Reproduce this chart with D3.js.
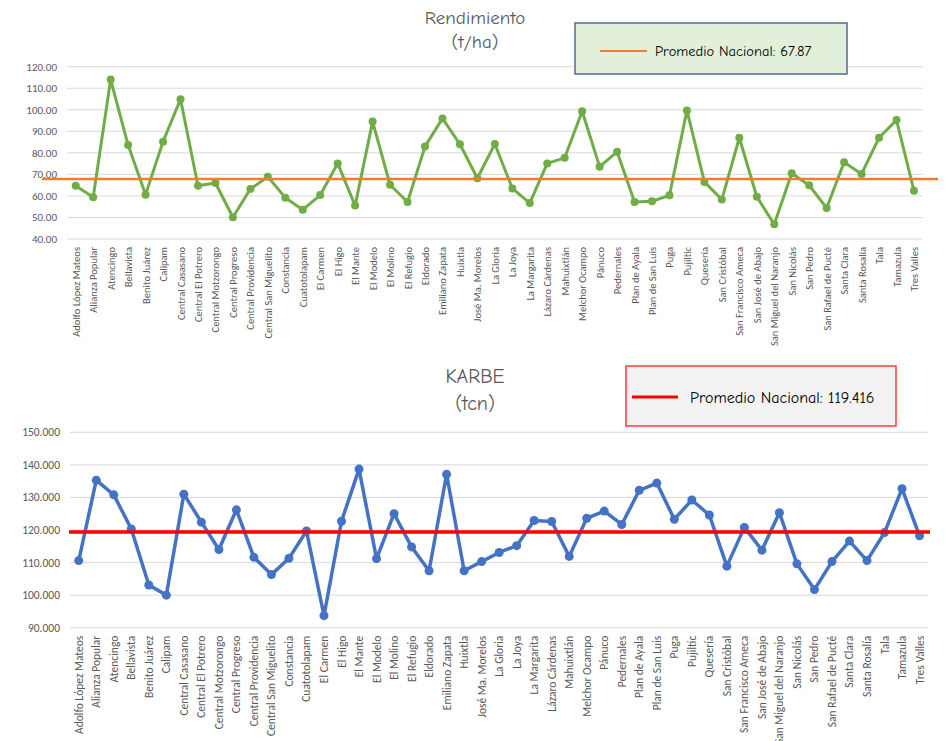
<!DOCTYPE html>
<html>
<head>
<meta charset="utf-8">
<script src="https://cdn.jsdelivr.net/npm/d3@7"></script>
<style>
  body { margin: 0; background: #fff; }
  svg { display: block; }
</style>
</head>
<body>
<svg id="chart" width="947" height="741"></svg>
<script>
// Ingenios (same order in both charts)
const ingenios = [
  "Adolfo López Mateos", "Alianza Popular", "Atencingo", "Bellavista", "Benito Juárez", "Calipam",
  "Central Casasano", "Central El Potrero", "Central Motzorongo", "Central Progreso", "Central Providencia",
  "Central San Miguelito", "Constancia", "Cuatotolapam", "El Carmen", "El Higo", "El Mante", "El Modelo",
  "El Molino", "El Refugio", "Eldorado", "Emiliano Zapata", "Huixtla", "José Ma. Morelos", "La Gloria",
  "La Joya", "La Margarita", "Lázaro Cárdenas", "Mahuixtlán", "Melchor Ocampo", "Pánuco", "Pedernales",
  "Plan de Ayala", "Plan de San Luis", "Puga", "Pujiltic", "Quesería", "San Cristóbal", "San Francisco Ameca",
  "San José de Abajo", "San Miguel del Naranjo", "San Nicolás", "San Pedro", "San Rafael de Pucté",
  "Santa Clara", "Santa Rosalía", "Tala", "Tamazula", "Tres Valles"
];

// Rendimiento (t/ha)
const rendimiento = [
  64.7, 59.4, 114.0, 83.6, 60.6, 85.2, 104.9, 64.7, 66.0, 50.1, 63.2, 68.9, 59.2, 53.6, 60.4, 75.1, 55.5,
  94.5, 65.2, 57.2, 82.9, 96.0, 84.0, 68.2, 84.1, 63.5, 56.7, 75.1, 77.7, 99.3, 73.6, 80.5, 57.2, 57.5,
  60.3, 99.7, 66.5, 58.3, 87.0, 59.6, 46.8, 70.5, 64.9, 54.4, 75.6, 70.2, 87.0, 95.2, 62.4
];
const promedioRendimiento = 67.87;
const ticksRendimiento = [40, 50, 60, 70, 80, 90, 100, 110, 120];

// KARBE (tcn)
const karbe = [
  110.6, 135.3, 130.8, 120.3, 103.1, 100.0, 131.0, 122.4, 114.0, 126.2, 111.6, 106.3, 111.3, 119.7, 93.7,
  122.7, 138.7, 111.2, 125.0, 114.8, 107.5, 137.1, 107.5, 110.3, 113.1, 115.2, 122.9, 122.6, 111.9, 123.6,
  125.8, 121.7, 132.2, 134.4, 123.3, 129.2, 124.6, 108.9, 120.8, 113.8, 125.3, 109.6, 101.7, 110.3, 116.6,
  110.6, 119.2, 132.7, 118.2
];
const promedioKarbe = 119.416;
const ticksKarbe = [90, 100, 110, 120, 130, 140, 150];

const svg = d3.select("#chart");
const titleFont = "'Comic Sans MS', 'Comic Neue', 'DejaVu Sans', sans-serif";
const axisFont = "Calibri, Carlito, 'Open Sans', sans-serif";

function drawChart(o) {
  const g = svg.append("g");

  const x = d3.scalePoint().domain(ingenios).range([o.left, o.right]).padding(0.5);
  const y = d3.scaleLinear().domain(o.domain).range([o.bottom, o.top]);

  // gridlines
  g.selectAll("line.grid")
    .data(o.ticks)
    .join("line")
      .attr("x1", o.left).attr("x2", o.right)
      .attr("y1", d => y(d)).attr("y2", d => y(d))
      .attr("stroke", "#d9d9d9").attr("stroke-width", 1);

  // y tick labels
  g.selectAll("text.ytick")
    .data(o.ticks)
    .join("text")
      .attr("x", o.left - 10)
      .attr("y", d => y(d))
      .attr("dy", "0.35em")
      .attr("text-anchor", "end")
      .style("font-family", axisFont)
      .style("font-size", o.tickSize + "px")
      .style("fill", "#595959")
      .text(d => d3.format(o.fmt)(d));

  // category labels, rotated
  g.selectAll("text.xlab")
    .data(ingenios)
    .join("text")
      .attr("transform", d => `translate(${x(d) + 4},${o.bottom + o.labelGap}) rotate(-90)`)
      .attr("text-anchor", "end")
      .style("font-family", axisFont)
      .style("font-size", o.labelSize + "px")
      .style("fill", "#595959")
      .text(d => d);

  // series line + markers
  const line = d3.line().x((d, i) => x(ingenios[i])).y(d => y(d));
  g.append("path")
    .datum(o.values)
    .attr("d", line)
    .attr("fill", "none")
    .attr("stroke", o.color)
    .attr("stroke-width", o.lineWidth)
    .attr("stroke-linejoin", "round");
  g.selectAll("circle")
    .data(o.values)
    .join("circle")
      .attr("cx", (d, i) => x(ingenios[i]))
      .attr("cy", d => y(d))
      .attr("r", o.markerR)
      .attr("fill", o.color);

  // national average line
  g.append("line")
    .attr("x1", o.avgX1).attr("x2", o.avgX2)
    .attr("y1", y(o.avg)).attr("y2", y(o.avg))
    .attr("stroke", o.avgColor)
    .attr("stroke-width", o.avgWidth);

  // title
  const t = g.append("text")
    .attr("text-anchor", "middle")
    .style("font-family", titleFont)
    .style("font-size", o.titleSize + "px")
    .style("fill", "#595959");
  o.title.forEach((s, i) => {
    t.append("tspan").attr("x", 475).attr("y", o.titleY + i * o.titleLead).text(s);
  });

  // legend box
  const b = o.box;
  g.append("rect")
    .attr("x", b.x).attr("y", b.y).attr("width", b.w).attr("height", b.h)
    .attr("fill", b.fill).attr("stroke", b.stroke).attr("stroke-width", 1.5);
  g.append("line")
    .attr("x1", b.x + b.lx1).attr("x2", b.x + b.lx2)
    .attr("y1", b.y + b.ly).attr("y2", b.y + b.ly)
    .attr("stroke", o.avgColor).attr("stroke-width", b.lw);
  g.append("text")
    .attr("x", b.x + b.tx).attr("y", b.y + b.ly)
    .attr("dy", "0.35em")
    .style("font-family", titleFont)
    .style("font-size", b.fs + "px")
    .style("fill", "#000")
    .text("Promedio Nacional: " + o.avgLabel);
}

drawChart({
  values: rendimiento, ticks: ticksRendimiento, domain: [40, 120], fmt: ".2f",
  left: 67, right: 922.7, top: 66.7, bottom: 239,
  color: "#70AD47", lineWidth: 3, markerR: 4,
  avg: promedioRendimiento, avgLabel: "67.87", avgColor: "#ED7D31", avgWidth: 2.5, avgX1: 42, avgX2: 938,
  title: ["Rendimiento", "(t/ha)"], titleY: 24, titleLead: 24, titleSize: 19,
  tickSize: 11, labelSize: 10.5, labelGap: 8,
  box: { x: 575, y: 23, w: 272, h: 51, fill: "#e2efda", stroke: "#4f6a96",
         lx1: 25, lx2: 72, ly: 28, lw: 2, tx: 80, fs: 14.5 }
});

drawChart({
  values: karbe, ticks: ticksKarbe, domain: [90, 150], fmt: ".3f",
  left: 70, right: 928.3, top: 432.3, bottom: 627.7,
  color: "#4472C4", lineWidth: 3.5, markerR: 4.5,
  avg: promedioKarbe, avgLabel: "119.416", avgColor: "#FF0000", avgWidth: 3.5, avgX1: 69, avgX2: 930,
  title: ["KARBE", "(tcn)"], titleY: 383, titleLead: 27, titleSize: 20,
  tickSize: 11.5, labelSize: 11.5, labelGap: 8,
  box: { x: 626, y: 366, w: 270, h: 60, fill: "#f2f2f2", stroke: "#ff3b3b",
         lx1: 6, lx2: 52, ly: 31, lw: 3, tx: 64, fs: 16 }
});
</script>
</body>
</html>
